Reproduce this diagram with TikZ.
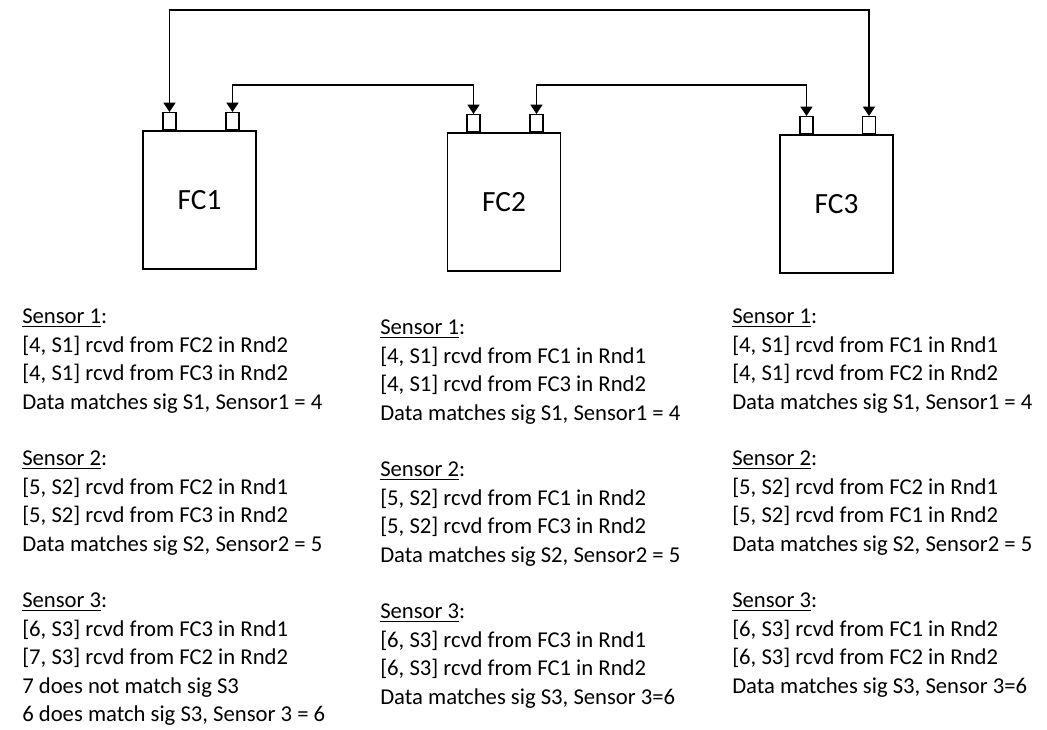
\documentclass[tikz,border=0pt]{standalone}
\usepackage{fontspec}
\setmainfont{Carlito}
\usepackage{tikz}
\usetikzlibrary{arrows.meta,positioning,calc}
\newcommand{\sensorhead}[1]{\underline{Sensor #1}:}
\tikzset{
    fcbox/.style={draw, line width=1pt, minimum width=84.75pt, minimum height=103.5pt, inner sep=0pt, font=\fontsize{22}{26}\selectfont},
    port/.style={draw, line width=1pt, fill=white, minimum width=9.75pt, minimum height=12.75pt, inner sep=0pt},
    biarr/.style={{Triangle[length=7pt, width=9pt]}-{Triangle[length=7pt, width=9pt]}, line width=1pt},
    log/.style={anchor=north west, align=left, inner sep=0pt, font=\fontsize{17}{21.3}\selectfont},
}

\begin{document}
\begin{tikzpicture}[x=0.75pt, y=-0.75pt]
\useasboundingbox (0,0) rectangle (1047,730);
% flight computers
\node[fcbox] (fc1) at (199.5,200) {FC1};
\node[fcbox] (fc2) at (504,202) {FC2};
\node[fcbox] (fc3) at (836.5,204) {FC3};
% ports on top of each box
\node[port, anchor=south] (p1a) at (fc1.north -| 169.5,0) {};
\node[port, anchor=south] (p1b) at (fc1.north -| 232.5,0) {};
\node[port, anchor=south] (p2a) at (fc2.north -| 473.5,0) {};
\node[port, anchor=south] (p2b) at (fc2.north -| 536.5,0) {};
\node[port, anchor=south] (p3a) at (fc3.north -| 806.5,0) {};
\node[port, anchor=south] (p3b) at (fc3.north -| 869,0) {};
% links
\coordinate (railtop) at (0,10);
\coordinate (railmid) at (0,85);
\draw[biarr] (p1a.north) -- (p1a.north |- railtop) -- (p3b.north |- railtop) -- (p3b.north);
\draw[biarr] (p1b.north) -- (p1b.north |- railmid) -- (p2a.north |- railmid) -- (p2a.north);
\draw[biarr] (p2b.north) -- (p2b.north |- railmid) -- (p3a.north |- railmid) -- (p3a.north);
% what each computer received
\node[log] (log1) at (22,309) {\sensorhead{1}\\
{[}4, S1] rcvd from FC2 in Rnd2\\
{[}4, S1] rcvd from FC3 in Rnd2\\
Data matches sig S1, Sensor1 = 4\\[21.3pt]
\sensorhead{2}\\
{[}5, S2] rcvd from FC2 in Rnd1\\
{[}5, S2] rcvd from FC3 in Rnd2\\
Data matches sig S2, Sensor2 = 5\\[21.3pt]
\sensorhead{3}\\
{[}6, S3] rcvd from FC3 in Rnd1\\
{[}7, S3] rcvd from FC2 in Rnd2\\
7 does not match sig S3\\
6 does match sig S3, Sensor 3 = 6};
\node[log] (log2) at (380,320) {\sensorhead{1}\\
{[}4, S1] rcvd from FC1 in Rnd1\\
{[}4, S1] rcvd from FC3 in Rnd2\\
Data matches sig S1, Sensor1 = 4\\[21.3pt]
\sensorhead{2}\\
{[}5, S2] rcvd from FC1 in Rnd2\\
{[}5, S2] rcvd from FC3 in Rnd2\\
Data matches sig S2, Sensor2 = 5\\[21.3pt]
\sensorhead{3}\\
{[}6, S3] rcvd from FC3 in Rnd1\\
{[}6, S3] rcvd from FC1 in Rnd2\\
Data matches sig S3, Sensor 3=6};
\node[log] (log3) at (732,309) {\sensorhead{1}\\
{[}4, S1] rcvd from FC1 in Rnd1\\
{[}4, S1] rcvd from FC2 in Rnd2\\
Data matches sig S1, Sensor1 = 4\\[21.3pt]
\sensorhead{2}\\
{[}5, S2] rcvd from FC2 in Rnd1\\
{[}5, S2] rcvd from FC1 in Rnd2\\
Data matches sig S2, Sensor2 = 5\\[21.3pt]
\sensorhead{3}\\
{[}6, S3] rcvd from FC1 in Rnd2\\
{[}6, S3] rcvd from FC2 in Rnd2\\
Data matches sig S3, Sensor 3=6};
\end{tikzpicture}
\end{document}
